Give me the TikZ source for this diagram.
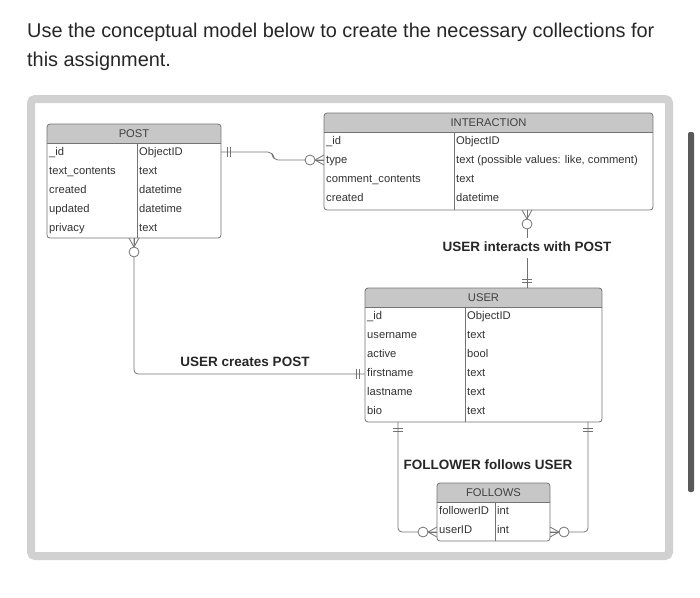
\documentclass[tikz,border=0pt]{standalone}
\usepackage{fontspec}
\setmainfont{Liberation Sans}
\usetikzlibrary{positioning}

\tikzset{
  cell/.style={anchor=west, inner sep=2pt, text height=8pt, text depth=2.5pt,
    text=black!80, font=\fontsize{11.2}{12}\selectfont},
  hdr/.style={inner sep=1pt, text=black!75, font=\fontsize{11.2}{12}\selectfont},
  rel/.style={inner sep=1pt, text=black!85, font=\bfseries\fontsize{13.5}{15}\selectfont},
  wire/.style={draw=black!55, line width=0.8pt},
}

% entity box: name, x1, y1, x2, y2, split x, title, rows
\newcommand\entity[8]{%
  \begin{scope}
    \clip[rounded corners=3pt] (#2,#3) rectangle (#4,#5);
    \fill[white] (#2,#3) rectangle (#4,#5);
    \fill[black!22] (#2,#3) rectangle (#4,#3+19);
  \end{scope}
  \draw[wire, rounded corners=3pt] (#2,#3) rectangle (#4,#5);
  \draw[wire] (#2,#3+19) -- (#4,#3+19);
  \draw[wire] (#6,#3+19) -- (#6,#5);
  \coordinate (#1-nw) at (#2,#3);
  \coordinate (#1-se) at (#4,#5);
  \node[hdr] (#1-title) at ({(#2+#4)/2},#3+10) {#7};
  \foreach \k/\v [count=\i] in {#8} {
    \node[cell] (#1-k\i) at (#2,#3+19+19*\i-9.5) {\k};
    \node[cell] (#1-v\i) at (#6,#3+19+19*\i-9.5) {\v};
  }
}
% zero-or-many end: point, direction away from the box
\newcommand\manyend[2]{%
  \begin{scope}[shift={(#1)}, rotate=#2]
    \draw[wire] (0,-5) -- (9,0) -- (0,5);
    \draw[wire] (0,0) -- (9,0);
    \draw[wire, fill=white] (14,0) circle (5);
  \end{scope}}
% exactly-one end
\newcommand\oneend[2]{%
  \begin{scope}[shift={(#1)}, rotate=#2]
    \draw[wire] (6,-5) -- (6,5) (9,-5) -- (9,5);
  \end{scope}}

\begin{document}
\begin{tikzpicture}[x=1pt, y=-1pt]
\useasboundingbox (0,0) rectangle (700,597);

% page text and frame
\node[anchor=base west, inner sep=0pt, text=black!85, font=\fontsize{19.9}{22}\selectfont]
  (line1) at (27,37) {Use the conceptual model below to create the necessary collections for};
\node[anchor=base west, inner sep=0pt, text=black!85, font=\fontsize{19.9}{22}\selectfont]
  (line2) at (27,66) {this assignment.};
\draw[line width=8pt, black!18, rounded corners=4pt] (31,99) rectangle (669,556);
\fill[black!65, rounded corners=2pt] (688,132) rectangle (694,492);

% connectors first, boxes over them
\draw[wire, rounded corners=5pt] (221,152) -- (273,152) -- (273,160) -- (324,160);
\draw[wire, rounded corners=4pt] (134,238) -- (134,374) -- (365,374);
\draw[wire] (527,210) -- (527,238);
\draw[wire] (527,258) -- (527,288);
\draw[wire, rounded corners=4pt] (398,422) -- (398,532) -- (437,532);
\draw[wire, rounded corners=4pt] (588,422) -- (588,532) -- (550,532);

\entity{post}{47}{124}{221}{238}{137}{POST}{%
  \_id/ObjectID, text\_contents/text, created/datetime, updated/datetime, privacy/text}
\entity{inter}{324}{113}{653}{210}{454}{INTERACTION}{%
  \_id/ObjectID, type/{text (possible values: like, comment)},
  comment\_contents/text, created/datetime}
\entity{user}{365}{288}{602}{422}{465}{USER}{%
  \_id/ObjectID, username/text, active/bool, firstname/text, lastname/text, bio/text}
\entity{follows}{437}{483}{550}{541}{495}{FOLLOWS}{%
  followerID/int, userID/int}

% relationship ends
\oneend{221,152}{0}
\manyend{324,160}{180}
\manyend{134,238}{-90}
\oneend{365,374}{180}
\manyend{527,210}{-90}
\oneend{527,288}{90}
\oneend{398,422}{-90}
\oneend{588,422}{-90}
\manyend{437,532}{180}
\manyend{550,532}{0}

% relationship labels
\node[rel] (creates) at (245,362) {USER creates POST};
\node[rel] (interacts) at (527,247) {USER interacts with POST};
\node[rel] (follow) at (488,465) {FOLLOWER follows USER};
\end{tikzpicture}
\end{document}
